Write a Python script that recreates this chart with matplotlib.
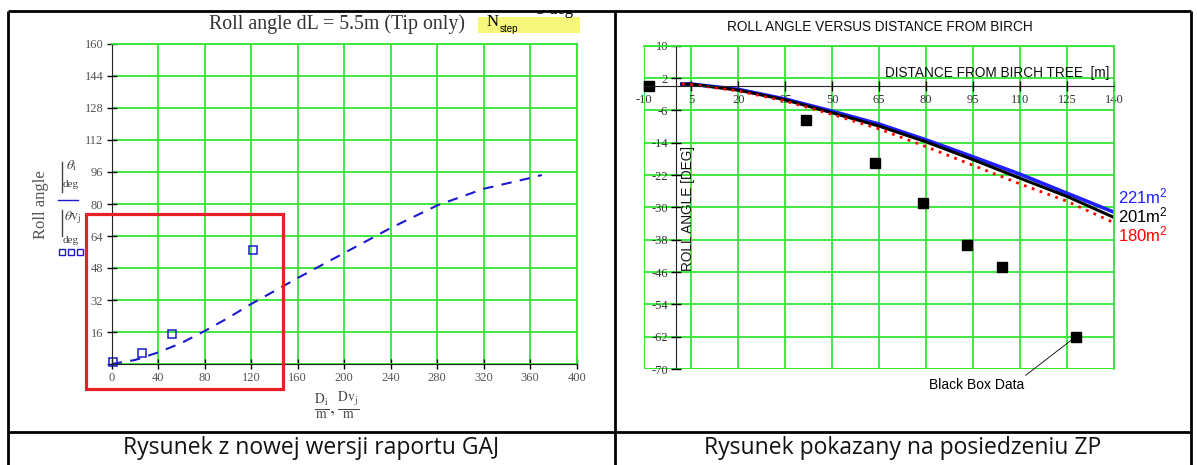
import matplotlib.pyplot as plt
from matplotlib.patches import Rectangle

plt.rcParams['mathtext.fontset'] = 'custom'
plt.rcParams['mathtext.rm'] = 'Liberation Sans'
plt.rcParams['mathtext.it'] = 'Liberation Sans:italic'
plt.rcParams['axes.unicode_minus'] = False

# left chart (Mathcad export): roll angle vs distance
left_d = [0, 20, 40, 60, 80, 100, 120, 140, 160, 200, 240, 280, 320, 360, 370]
left_theta = [0, 2, 5.8, 10.5, 16.5, 23, 30, 36.5, 43, 55.5, 68, 79.3, 87.6, 93, 94.5]
left_dv = [1, 25.8, 51.9, 121.8]
left_thetav = [1, 5.6, 15, 57]
left_xticks = list(range(0, 401, 40))
left_yticks = list(range(0, 161, 16))

# right chart: three wing areas + black box data
right_dist = [2, 5, 20, 35, 50, 65, 80, 95, 110, 125, 140]
roll_221 = [0.5, 0.5, -0.8, -3.2, -6.2, -9.4, -13.3, -17.5, -21.8, -26.5, -31.2]
roll_201 = [0.5, 0.5, -1.0, -3.4, -6.6, -9.9, -13.8, -18.2, -22.8, -27.3, -32.5]
roll_180 = [0.5, 0.4, -1.2, -3.7, -7.0, -10.6, -15.0, -19.6, -24.2, -28.5, -33.8]
box_dist = [-8.5, 41.5, 63.7, 79, 93.2, 104.3, 127.8]
box_roll = [0, -8.5, -19, -29, -39.2, -44.8, -62]
right_xticks = list(range(-10, 141, 15))
right_yticks = list(range(10, -71, -8))
area_labels = ['221m$^2$', '201m$^2$', '180m$^2$']

W, H = 1197, 465
green = '#33e633'
blue = '#1a1acc'


def px_box(x0, y0, x1, y1):
    return [x0 / W, 1 - y1 / H, (x1 - x0) / W, (y1 - y0) / H]


fig = plt.figure(figsize=(W / 100, H / 100), dpi=100)

# ---- left panel ----
axL = fig.add_axes(px_box(111.7, 44, 576.7, 364))
axL.set_xlim(0, 400)
axL.set_ylim(0, 160)
axL.set_xticks(left_xticks)
axL.set_yticks(left_yticks)
axL.set_yticklabels([''] + [str(v) for v in left_yticks[1:]])
axL.grid(True, color=green, lw=1.3)
axL.set_axisbelow(True)
for s in ['top', 'right']:
    axL.spines[s].set_color(green)
    axL.spines[s].set_linewidth(1.3)
for s in ['left', 'bottom']:
    axL.spines[s].set_color('#222')
axL.tick_params(direction='inout', length=7, width=1, labelsize=9,
                labelcolor='#555', pad=2.5)
for lab in axL.get_xticklabels() + axL.get_yticklabels():
    lab.set_family('Liberation Serif')
axL.plot(left_d, left_theta, color=blue, lw=1.5, ls=(0, (5, 4)))
axL.plot(left_dv, left_thetav, 's', mfc='none', mec=blue, mew=1.1, ms=6,
         clip_on=False)

# ---- right panel ----
axR = fig.add_axes(px_box(644.3, 45.7, 1114, 369))
axR.set_xlim(-10, 140)
axR.set_ylim(-70, 10)
axR.set_xticks(right_xticks)
axR.set_yticks(right_yticks)
axR.spines['left'].set_position(('data', 0))
axR.spines['bottom'].set_position(('data', 0))
for s in ['left', 'bottom']:
    axR.spines[s].set_color('#222')
for s in ['top', 'right']:
    axR.spines[s].set_color(green)
    axR.spines[s].set_linewidth(1.3)
axR.axvline(-10, color=green, lw=1.3, zorder=0.5)
axR.axhline(-70, color=green, lw=1.3, zorder=0.5)
axR.grid(True, color=green, lw=1.3)
axR.set_axisbelow(True)
axR.tick_params(direction='inout', length=7, width=1, labelsize=9,
                labelcolor='#333', pad=2)
for lab in axR.get_xticklabels() + axR.get_yticklabels():
    lab.set_family('Liberation Serif')

axR.plot(right_dist, roll_221, color='#1f1fff', lw=2.6)
axR.plot(right_dist, roll_201, color='black', lw=2.2)
axR.plot(right_dist, roll_180, color='red', lw=2, ls=(0, (1, 2)))
axR.plot(box_dist, box_roll, 's', color='black', ms=7, clip_on=False)

for txt, col, yv in zip(area_labels, ['#1f1fff', 'black', 'red'],
                        [roll_221[-1] + 3.8, roll_201[-1] + 0.6, roll_180[-1] - 2.8]):
    axR.text(141.2, yv, txt, color=col, fontsize=12, family='Liberation Sans',
             ha='left', va='center', clip_on=False)

axR.annotate('Black Box Data', xy=(box_dist[-1], box_roll[-1]), xytext=(96, -74),
             ha='center', va='center', fontsize=10, family='Liberation Sans',
             arrowprops=dict(arrowstyle='-', lw=0.6, color='black',
                             shrinkA=0, shrinkB=4, relpos=(0.98, 1.0)),
             annotation_clip=False)

# ---- overlay: table, titles, captions ----
ov = fig.add_axes([0, 0, 1, 1])
ov.set_xlim(0, W)
ov.set_ylim(H, 0)
ov.axis('off')
ov.set_zorder(5)

ov.add_patch(Rectangle((86, 214), 197, 175, fill=False, ec='#e8202a', lw=2.3))

ov.text(337, 24, 'Roll angle dL = 5.5m (Tip only)', fontsize=14.3,
        family='Liberation Serif', ha='center', va='center', color='#333')
ov.add_patch(Rectangle((478, 17), 102, 16, fc='#f7f77c', ec='none'))
ov.text(484, 13, '°', fontsize=9, family='Liberation Serif', ha='center', va='center')
ov.text(493, 22, 'N', fontsize=12, family='Liberation Serif', ha='center', va='center')
ov.text(500, 29, 'step', fontsize=7, family='Liberation Sans', ha='left', va='center')
ov.text(548, 10, '= 5 deg', fontsize=12, family='Liberation Serif', ha='center', va='center')
ov.add_patch(Rectangle((0, 0), W, 10.5, fc='white', ec='none', zorder=3))

ov.text(41, 205, 'Roll angle', rotation=90, fontsize=12, family='Liberation Serif',
        ha='center', va='center', color='#555')
ov.plot([62, 62], [162, 192], color='#444', lw=1)
ov.text(72, 166, r'$\theta_{\mathrm{i}}$', math_fontfamily='stix', fontsize=10,
        ha='center', va='center', color='#444')
ov.text(71, 184, 'deg', fontsize=8, family='Liberation Serif', ha='center',
        va='center', color='#444')
ov.plot([58, 78], [200, 200], color=blue, lw=1)
ov.plot([62, 62], [210, 236], color='#444', lw=1)
ov.text(73, 218, r'$\theta\mathrm{v}_{\mathrm{j}}$', math_fontfamily='stix', fontsize=10,
        ha='center', va='center', color='#444')
ov.text(71, 240, 'deg', fontsize=8, family='Liberation Serif', ha='center',
        va='center', color='#444')
ov.plot([62, 71, 80], [252, 252, 252], 's', mfc='none', mec=blue, mew=1, ms=5)

ov.text(337, 406, r'$\frac{\mathrm{D_i}}{\mathrm{m}},\frac{\mathrm{Dv_j}}{\mathrm{m}}$',
        math_fontfamily='stix', fontsize=14, ha='center', va='center', color='#444')

ov.text(880, 27, 'ROLL ANGLE VERSUS DISTANCE FROM BIRCH', fontsize=9.8,
        family='Liberation Sans', ha='center', va='center', color='#111')
ov.text(1109, 73, 'DISTANCE FROM BIRCH TREE  [m]', fontsize=9.8,
        family='Liberation Sans', ha='right', va='center', color='#111')
ov.text(688, 208, 'ROLL ANGLE [DEG]', rotation=90, fontsize=9.8,
        family='Liberation Sans', ha='center', va='center', color='#111')

tk = dict(color='black', lw=2, solid_capstyle='butt', zorder=4)
ov.plot([8, 1191], [11, 11], **tk)
ov.plot([8, 1191], [432, 432], **tk)
ov.plot([8, 8], [11, H], **tk)
ov.plot([615, 615], [11, H], **tk)
ov.plot([1191, 1191], [11, H], **tk)

ov.text(311, 448, 'Rysunek z nowej wersji raportu GAJ', fontsize=16.5,
        family='Open Sans', ha='center', va='center', color='#111')
ov.text(903, 448, 'Rysunek pokazany na posiedzeniu ZP', fontsize=16.5,
        family='Open Sans', ha='center', va='center', color='#111')

fig.savefig('out.png', dpi=100)
